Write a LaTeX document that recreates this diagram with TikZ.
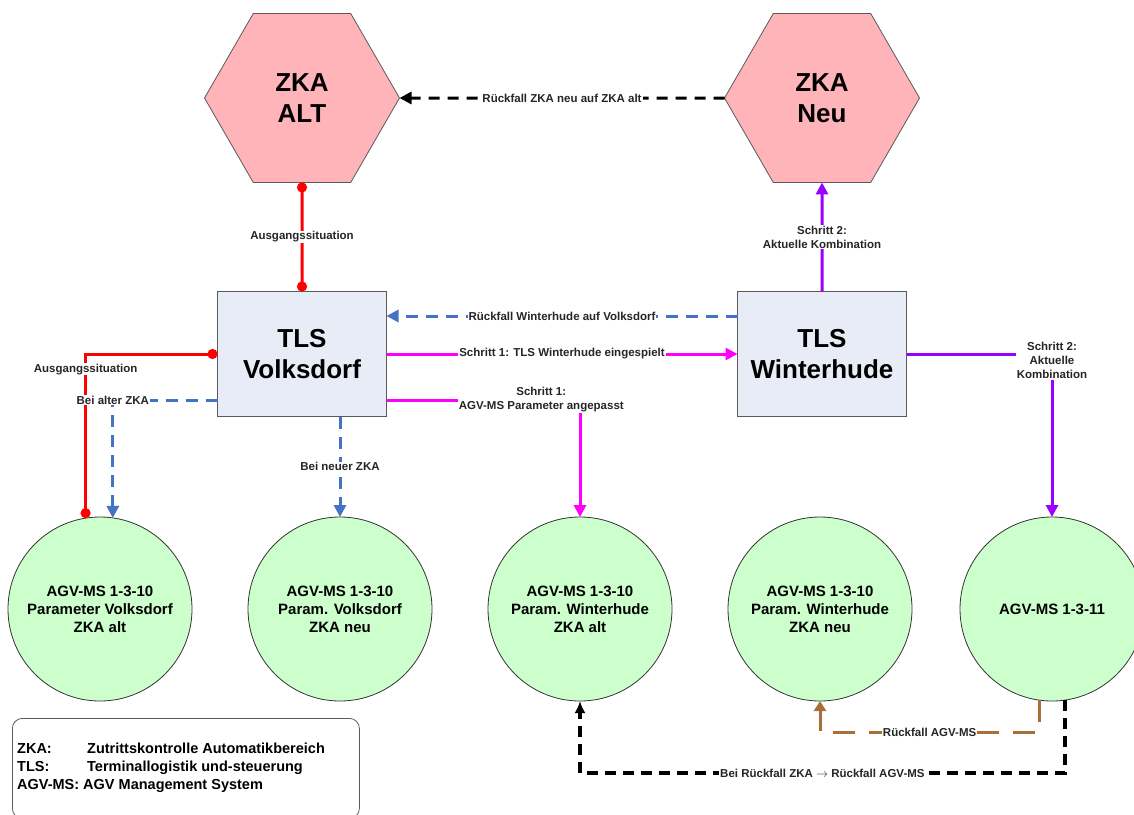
\documentclass[tikz,border=0pt]{standalone}
\usepackage{fontspec}
\setmainfont{Liberation Sans}
\usepackage{tikz}
\usetikzlibrary{positioning,arrows.meta,shapes.geometric}
\usepackage{xcolor}
\definecolor{hexpink}{RGB}{255,180,186}
\definecolor{tlsgray}{RGB}{232,236,246}
\definecolor{agvgreen}{RGB}{204,255,204}
\definecolor{linered}{RGB}{255,0,0}
\definecolor{lineblue}{RGB}{68,114,196}
\definecolor{linemag}{RGB}{255,0,255}
\definecolor{linepurple}{RGB}{153,0,255}
\definecolor{linebrown}{RGB}{168,112,56}
\definecolor{bordergray}{RGB}{90,90,90}

\begin{document}
\begin{tikzpicture}[x=1pt,y=-1pt,
    zka/.style={regular polygon,regular polygon sides=6,minimum size=195pt,inner sep=0pt,outer sep=0pt,
        draw=bordergray,line width=0.8pt,fill=hexpink,align=center,font=\fontsize{26}{31}\selectfont\bfseries},
    tls/.style={rectangle,minimum width=169pt,minimum height=125pt,inner sep=0pt,outer sep=0pt,
        draw=bordergray,line width=1.6pt,fill=tlsgray,align=center,font=\fontsize{26}{31}\selectfont\bfseries},
    agv/.style={circle,minimum size=184pt,inner sep=0pt,outer sep=0pt,
        draw=black!80,line width=0.8pt,fill=agvgreen,align=center,font=\fontsize{15}{18}\selectfont\bfseries},
    lbl/.style={fill=white,text=black!85,inner sep=1pt,align=center,font=\fontsize{11.5}{14}\selectfont\bfseries},
    conn/.style={line width=3pt},
    dotends/.style={{Circle[length=10pt]}-{Circle[length=10pt]}},
    arr/.style={-{Triangle[length=12pt,width=12pt]}},
    bluedash/.style={lineblue,dash pattern=on 12pt off 8pt}
]
    \useasboundingbox (0,0) rectangle (1134,814);
    % ZKA
    \node[zka] (zkaalt) at (302,98) {ZKA\\ALT};
    \node[zka] (zkaneu) at (822,98) {ZKA\\Neu};
    % TLS
    \node[tls] (tlsv) at (302,354) {TLS\\Volksdorf};
    \node[tls] (tlsw) at (822,354) {TLS\\Winterhude};
    % AGV-MS
    \node[agv] (agv1) at (100,609) {AGV-MS 1-3-10\\Parameter Volksdorf\\ZKA alt};
    \node[agv] (agv2) at (340,609) {AGV-MS 1-3-10\\Param. Volksdorf\\ZKA neu};
    \node[agv] (agv3) at (580,609) {AGV-MS 1-3-10\\Param. Winterhude\\ZKA alt};
    \node[agv] (agv4) at (820,609) {AGV-MS 1-3-10\\Param. Winterhude\\ZKA neu};
    \node[agv] (agv5) at (1052,609) {AGV-MS 1-3-11};

    % Ausgangssituation
    \draw[conn,linered,dotends] (zkaalt.south) -- node[lbl] {Ausgangssituation} (tlsv.north);
    \draw[conn,linered,dotends] (tlsv.west) -| node[lbl,pos=0.546] {Ausgangssituation} (agv1.99);
    % Volksdorf
    \draw[conn,bluedash,arr] (tlsv.west |- 0,400) -| node[lbl] {Bei alter ZKA} (agv1.82);
    \draw[conn,bluedash,arr] (tlsv.south -| agv2.north) -- node[lbl] {Bei neuer ZKA} (agv2.north);
    \draw[conn,bluedash,arr] (tlsw.west |- 0,316) -- node[lbl] {Rückfall Winterhude auf Volksdorf} (tlsv.east |- 0,316);
    % Schritt 1
    \draw[conn,linemag,arr] (tlsv.east) -- node[lbl] {Schritt 1: TLS Winterhude eingespielt} (tlsw.west);
    \draw[conn,linemag,arr] (tlsv.east |- 0,400) -| node[lbl,pos=0.4] {Schritt 1:\\AGV-MS Parameter angepasst} (agv3.north);
    % Schritt 2
    \draw[conn,linepurple,arr] (tlsw.north) -- node[lbl] {Schritt 2:\\Aktuelle Kombination} (zkaneu.south);
    \draw[conn,linepurple,arr] (tlsw.east) -| node[lbl,pos=0.52] {Schritt 2:\\Aktuelle\\Kombination} (agv5.north);
    % Rueckfall
    \draw[conn,black,dash pattern=on 11pt off 8pt,arr] (zkaneu.west) -- node[lbl] {Rückfall ZKA neu auf ZKA alt} (zkaalt.east);
    \draw[conn,linebrown,dash pattern=on 22pt off 14pt,-{Triangle[length=10pt,width=12pt]}]
        (agv5.262) -- (agv5.262 |- 0,732) -- node[lbl] {Rückfall AGV-MS} (agv4.south |- 0,732) -- (agv4.south);
    \draw[line width=3.5pt,black,dash pattern=on 11pt off 7pt,-{Latex[length=12pt,width=11pt]}]
        (agv5.278) -- (agv5.278 |- 0,773) -- node[lbl] {Bei Rückfall ZKA $\rightarrow$ Rückfall AGV-MS} (agv3.south |- 0,773) -- (agv3.south);

    % Legende
    \node[draw=bordergray,line width=0.8pt,rounded corners=10pt,minimum width=347pt,minimum height=100pt,anchor=north west] (legbox) at (12,718) {};
    \node[anchor=west,align=left,inner sep=0pt,font=\fontsize{14.5}{18}\selectfont\bfseries] (legtxt) at (17,768)
        {\makebox[70pt][l]{ZKA:}Zutrittskontrolle Automatikbereich\\
         \makebox[70pt][l]{TLS:}Terminallogistik und-steuerung\\
         AGV-MS: AGV Management System};
\end{tikzpicture}
\end{document}
